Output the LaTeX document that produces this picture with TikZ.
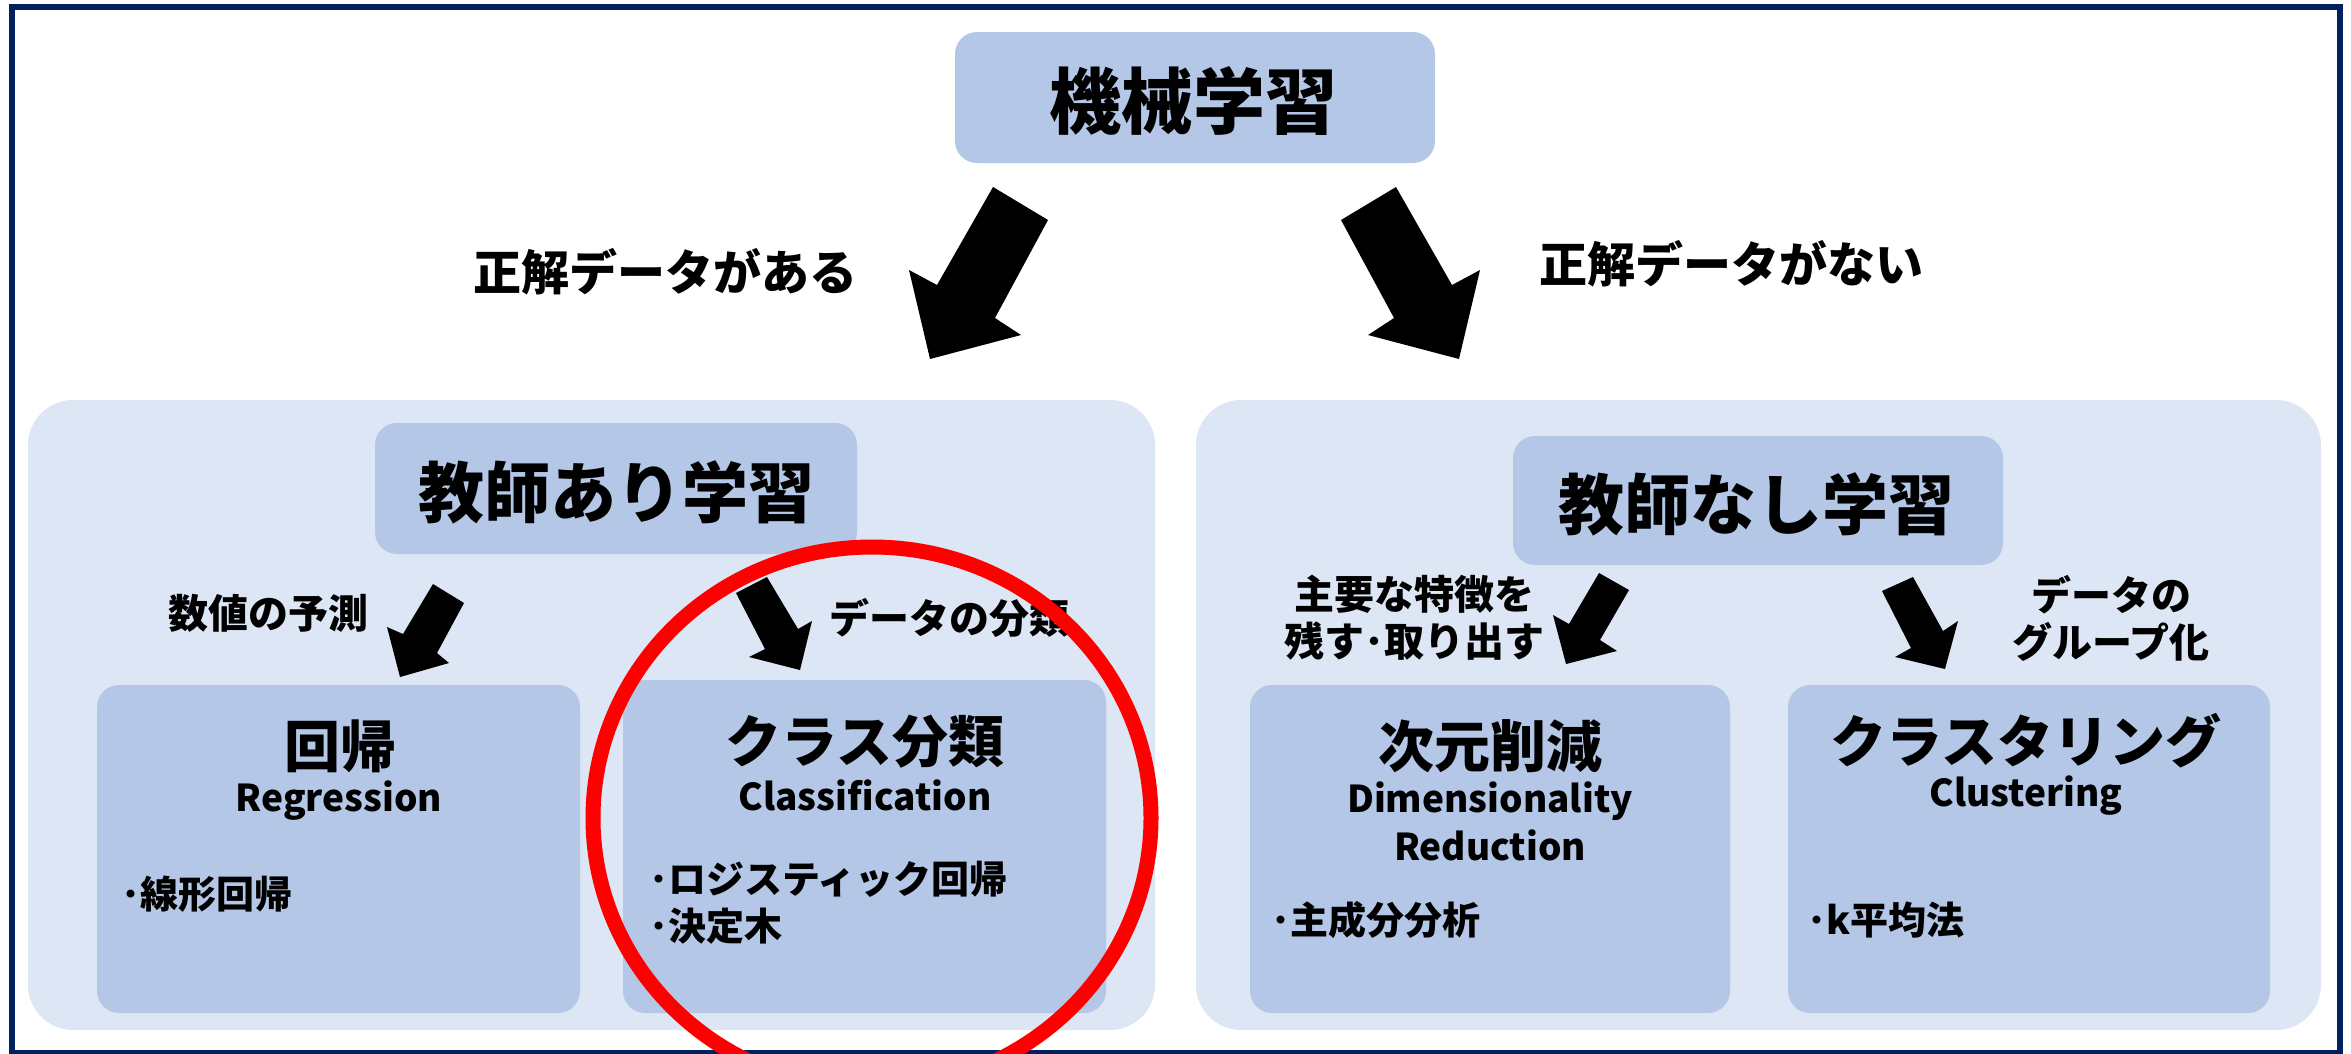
\documentclass[tikz,border=0pt]{standalone}
\usepackage{fontspec}
\setmainfont{Noto Sans CJK JP}
\definecolor{frameblue}{HTML}{002060}
\definecolor{panelblue}{HTML}{DCE6F4}
\definecolor{boxblue}{HTML}{B4C7E7}
\definecolor{ringred}{HTML}{FF0000}
\tikzset{
  panel/.style={fill=panelblue, draw=none, rounded corners=45pt},
  catbox/.style={fill=boxblue, draw=none, rounded corners=22pt},
  bigtitle/.style={font=\fontsize{72}{80}\selectfont\bfseries, inner sep=0pt},
  midtitle/.style={font=\fontsize{66}{74}\selectfont\bfseries, inner sep=0pt},
  subtitle/.style={font=\fontsize{56}{62}\selectfont\bfseries, inner sep=0pt},
  engtext/.style={font=\fontsize{37}{44}\selectfont\bfseries, inner sep=0pt},
  itemtext/.style={font=\fontsize{38}{46}\selectfont\bfseries, inner sep=0pt, anchor=west},
  lbl/.style={font=\fontsize{40}{47}\selectfont\bfseries, inner sep=0pt, align=center},
  biglbl/.style={font=\fontsize{48}{56}\selectfont\bfseries, inner sep=0pt},
  blockarrow/.style={fill=black, draw=none}
}
\begin{document}
\begin{tikzpicture}[x=1pt,y=-1pt]
\useasboundingbox (0,0) rectangle (2351,1053);
% outer frame
\draw[frameblue, line width=6pt] (12,7) rectangle (2339.5,1053);
% top box
\node[catbox, minimum width=480pt, minimum height=131pt] (ml) at (1195,97.5) {};
\node[bigtitle] (mlt) at (1193,101) {機械学習};
% panels
\path[panel] (28,400) rectangle (1155,1030);
\path[panel] (1196,400) rectangle (2321,1030);
% panel header boxes
\node[catbox, minimum width=482pt, minimum height=131pt] (sup) at (616,488.5) {};
\node[midtitle] (supt) at (616,492) {教師あり学習};
\node[catbox, minimum width=490pt, minimum height=129pt] (uns) at (1758,500.5) {};
\node[midtitle] (unst) at (1756,504) {教師なし学習};
% sub boxes
\node[catbox, minimum width=483pt, minimum height=328pt] (reg) at (338.5,849) {};
\node[catbox, minimum width=483pt, minimum height=333pt] (cls) at (864.5,846.5) {};
\node[catbox, minimum width=480pt, minimum height=328pt] (dim) at (1490,849) {};
\node[catbox, minimum width=482pt, minimum height=328pt] (clu) at (2029,849) {};
% sub box texts
\node[subtitle] (regt) at (340,746) {回帰};
\node[engtext] (rege) at (339,801) {Regression};
\node[itemtext] (regi) at (121,894) {･線形回帰};
\node[subtitle] (clst) at (865,742) {クラス分類};
\node[engtext] (clse) at (865,795) {Classification};
\node[itemtext] (clsi1) at (649,879) {･ロジスティック回帰};
\node[itemtext] (clsi2) at (649,926) {･決定木};
\node[subtitle] (dimt) at (1490,746) {次元削減};
\node[engtext] (dime1) at (1490,801) {Dimensionality};
\node[engtext] (dime2) at (1490,845) {Reduction};
\node[itemtext] (dimi) at (1271,920) {･主成分分析};
\node[subtitle] (clut) at (2026,741) {クラスタリング};
\node[engtext] (clue) at (2026,796) {Clustering};
\node[itemtext] (clui) at (1807,920) {･k平均法};
% labels
\node[biglbl] (yes) at (665,272) {正解データがある};
\node[biglbl] (no) at (1731,264) {正解データがない};
\node[lbl] (num) at (268,613) {数値の予測};
\node[lbl] (cat) at (949,618) {データの分類};
\node[lbl] (feat) at (1414,618) {主要な特徴を\\残す･取り出す};
\node[lbl] (grp) at (2111,618) {データの\\グループ化};
% big arrows
\path[blockarrow] (993,187) -- (1048,220) -- (995,318) -- (1021,335) -- (930,359) -- (909,270) -- (937,285) -- cycle;
\path[blockarrow] (1396,187) -- (1341,220) -- (1394,318) -- (1368,335) -- (1459,359) -- (1480,270) -- (1452,285) -- cycle;
% small arrows
\path[blockarrow] (433,584) -- (464,603) -- (437,653) -- (449,663) -- (400,677) -- (387,627) -- (403,634) -- cycle;
\path[blockarrow] (736,593) -- (767,577) -- (798,629) -- (812,621) -- (800,670) -- (749,657) -- (765,649) -- cycle;
\path[blockarrow] (1599,573) -- (1629,590) -- (1600,640) -- (1617,651) -- (1566,664) -- (1553,615) -- (1569,624) -- cycle;
\path[blockarrow] (1882,591) -- (1913,577) -- (1943,631) -- (1958,621) -- (1945,669) -- (1895,657) -- (1911,648) -- cycle;
% red ring
\draw[ringred, line width=15pt] (872,818) ellipse [x radius=279pt, y radius=271pt];
\end{tikzpicture}
\end{document}
